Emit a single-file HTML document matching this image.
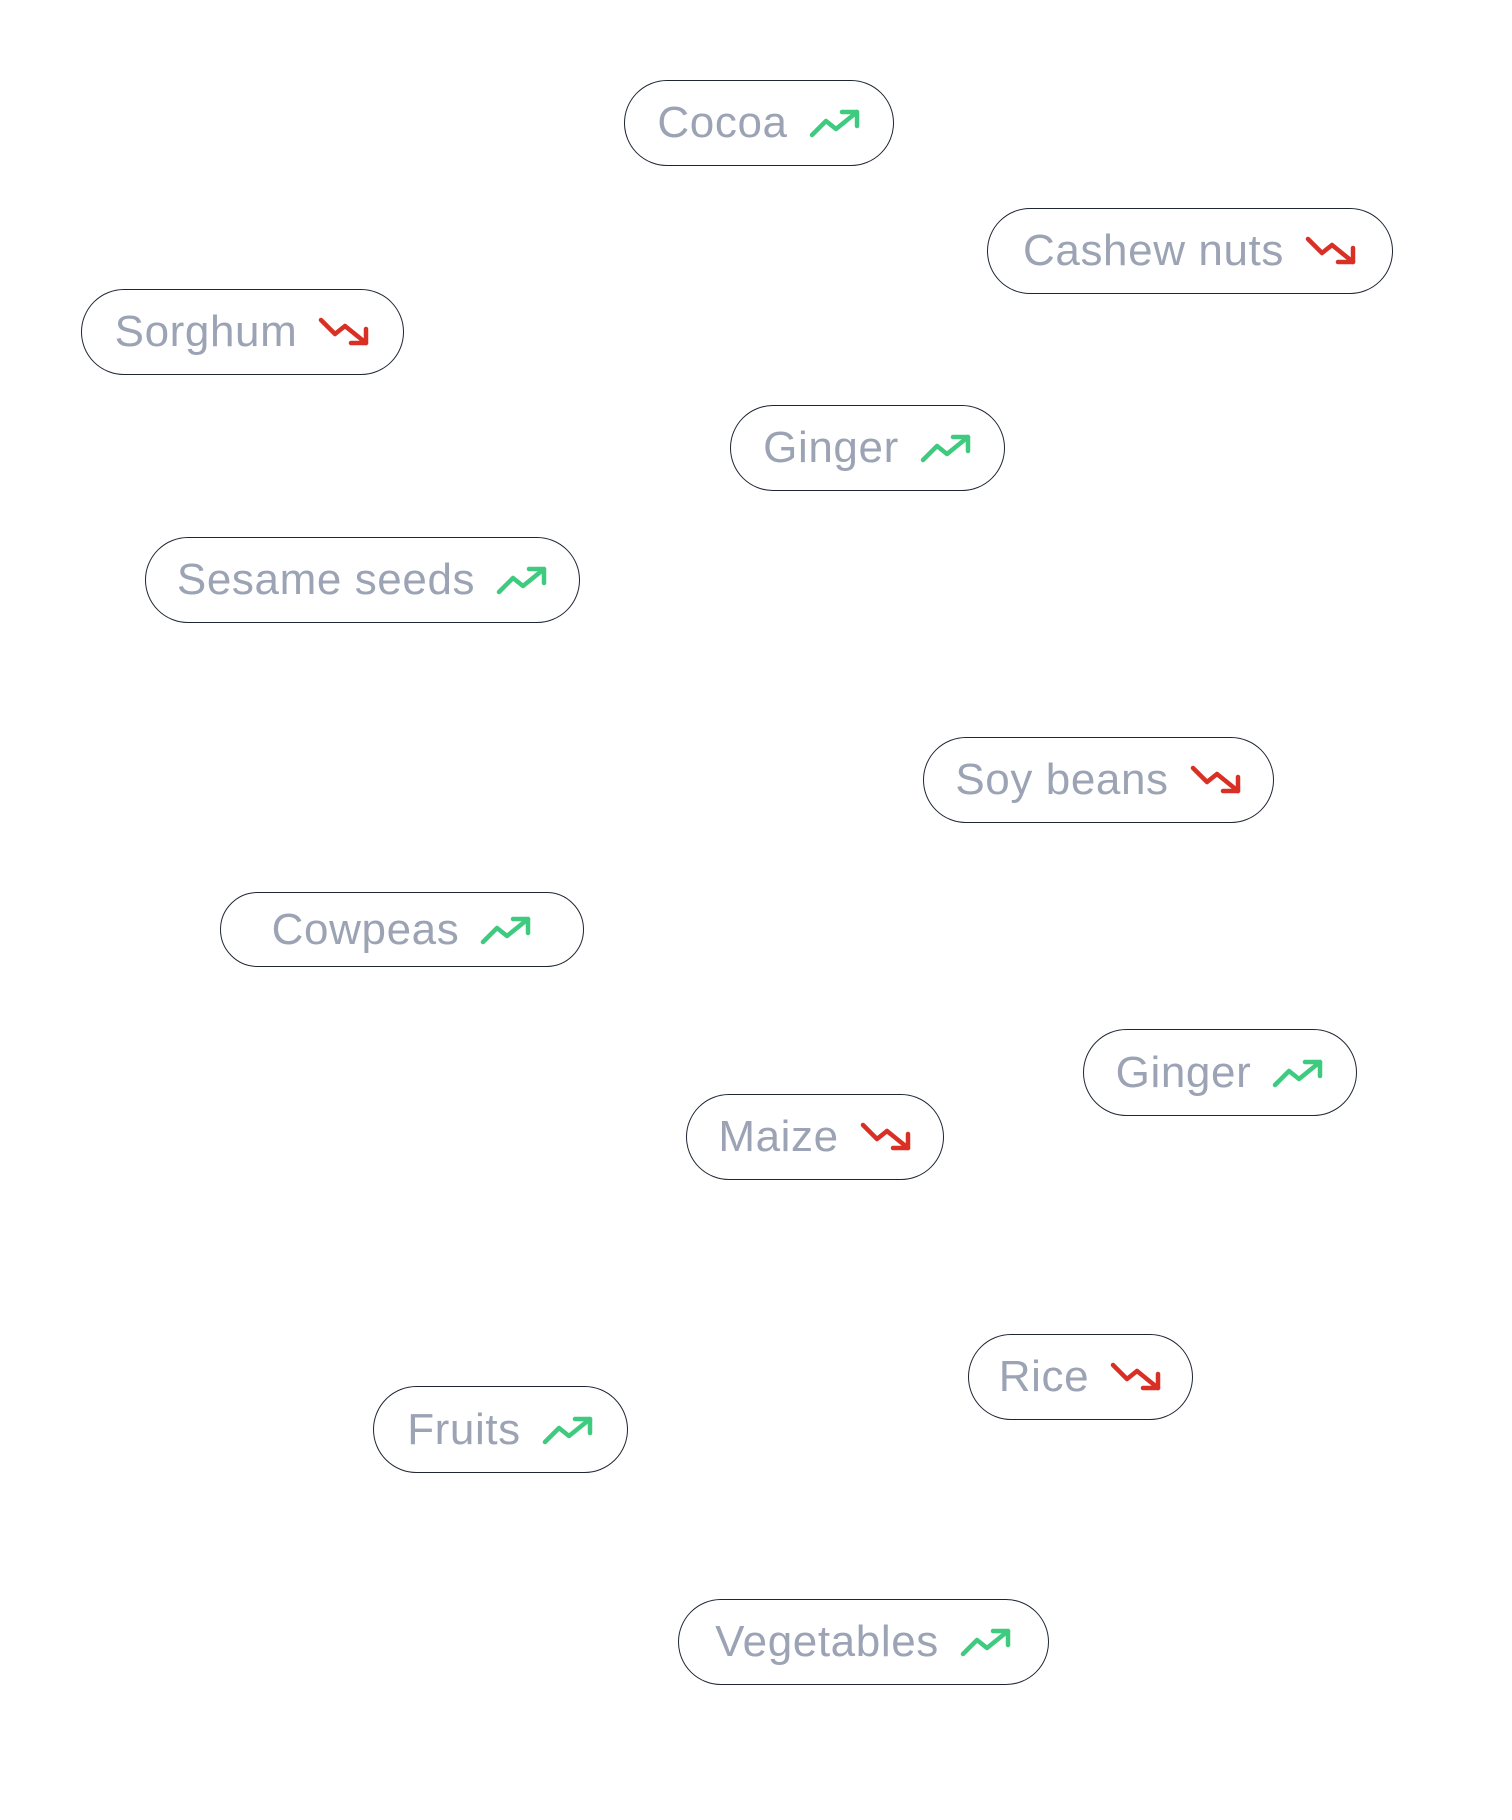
<!DOCTYPE html>
<html><head><meta charset="utf-8"><style>
html,body{margin:0;padding:0;background:#fff;}
body{width:1512px;height:1820px;position:relative;overflow:hidden;font-family:"Liberation Sans",sans-serif;}
.p{position:absolute;box-sizing:border-box;border:1.8px solid #1e2533;border-radius:50px;display:flex;align-items:center;justify-content:center;gap:21px;color:#9ba3b4;font-size:44px;letter-spacing:0.6px;}
.p svg{width:52px;height:30px;flex:none;}
</style></head><body>
<svg width="0" height="0" style="position:absolute"><defs>
<symbol id="u" viewBox="0 0 52 30"><polyline points="3,27 17,13 27,21 48,4" fill="none" stroke="#3fcb7f" stroke-width="4.5" stroke-linecap="round" stroke-linejoin="round"/><polyline points="33,4 48,4 48,18" fill="none" stroke="#3fcb7f" stroke-width="4.5" stroke-linecap="round" stroke-linejoin="round"/></symbol>
<symbol id="d" viewBox="0 0 52 30"><polyline points="3,3 17,17 27,9 48,26" fill="none" stroke="#d93025" stroke-width="4.5" stroke-linecap="round" stroke-linejoin="round"/><polyline points="33,26 48,26 48,12" fill="none" stroke="#d93025" stroke-width="4.5" stroke-linecap="round" stroke-linejoin="round"/></symbol>
</defs></svg>
<div class="p" style="left:624px;top:80px;width:270px;height:86px">Cocoa<svg><use href="#u"/></svg></div>
<div class="p" style="left:987px;top:208px;width:406px;height:86px">Cashew nuts<svg><use href="#d"/></svg></div>
<div class="p" style="left:81px;top:289px;width:323px;height:86px">Sorghum<svg><use href="#d"/></svg></div>
<div class="p" style="left:730px;top:405px;width:275px;height:86px">Ginger<svg><use href="#u"/></svg></div>
<div class="p" style="left:145px;top:537px;width:435px;height:86px">Sesame seeds<svg><use href="#u"/></svg></div>
<div class="p" style="left:923px;top:737px;width:351px;height:86px">Soy beans<svg><use href="#d"/></svg></div>
<div class="p" style="left:220px;top:892px;width:364px;height:75px">Cowpeas<svg><use href="#u"/></svg></div>
<div class="p" style="left:1083px;top:1029px;width:274px;height:87px">Ginger<svg><use href="#u"/></svg></div>
<div class="p" style="left:686px;top:1094px;width:258px;height:86px">Maize<svg><use href="#d"/></svg></div>
<div class="p" style="left:968px;top:1334px;width:225px;height:86px">Rice<svg><use href="#d"/></svg></div>
<div class="p" style="left:373px;top:1386px;width:255px;height:87px">Fruits<svg><use href="#u"/></svg></div>
<div class="p" style="left:678px;top:1599px;width:371px;height:86px">Vegetables<svg><use href="#u"/></svg></div>
</body></html>
